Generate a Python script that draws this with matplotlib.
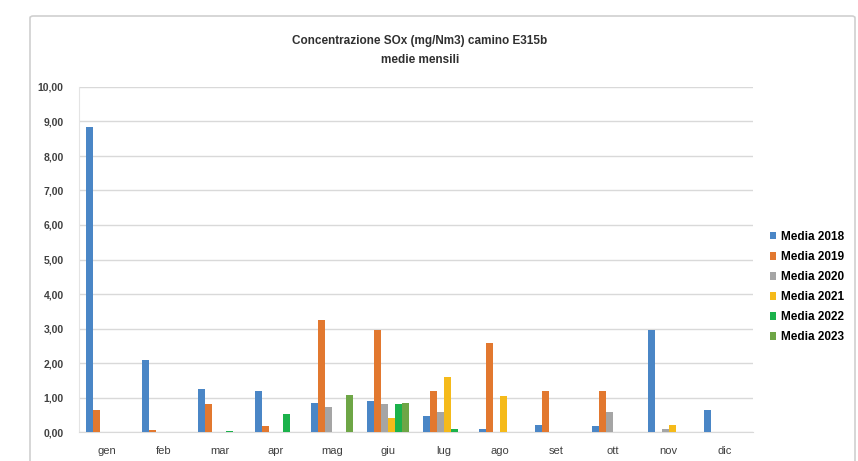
import numpy as np
import matplotlib.pyplot as plt
from matplotlib.patches import FancyBboxPatch

# monthly averages (mg/Nm3)
months = ['gen', 'feb', 'mar', 'apr', 'mag', 'giu', 'lug', 'ago', 'set', 'ott', 'nov', 'dic']
media_2018 = [8.85, 2.08, 1.25, 1.20, 0.85, 0.90, 0.45, 0.10, 0.20, 0.18, 2.95, 0.65]
media_2019 = [0.65, 0.05, 0.80, 0.18, 3.25, 2.97, 1.20, 2.57, 1.20, 1.20, 0.00, 0.00]
media_2020 = [0.00, 0.00, 0.00, 0.00, 0.72, 0.80, 0.58, 0.00, 0.00, 0.58, 0.10, 0.00]
media_2021 = [0.00, 0.00, 0.00, 0.00, 0.00, 0.42, 1.60, 1.03, 0.00, 0.00, 0.20, 0.00]
media_2022 = [0.00, 0.00, 0.03, 0.52, 0.00, 0.80, 0.10, 0.00, 0.00, 0.00, 0.00, 0.00]
media_2023 = [0.00, 0.00, 0.00, 0.00, 1.08, 0.85, 0.00, 0.00, 0.00, 0.00, 0.00, 0.00]
series_labels = ['Media 2018', 'Media 2019', 'Media 2020', 'Media 2021', 'Media 2022', 'Media 2023']
y_ticks = [0, 1, 2, 3, 4, 5, 6, 7, 8, 9, 10]

colors = ['#4A86C6', '#E2782F', '#A5A5A5', '#F5BA1A', '#1BB24B', '#6EA646']
series = [media_2018, media_2019, media_2020, media_2021, media_2022, media_2023]

plt.rcParams['font.family'] = ['Liberation Sans', 'DejaVu Sans']

fig = plt.figure(figsize=(8.58, 4.61), dpi=100)

# chart frame (light grey, like the spreadsheet chart box)
frame = FancyBboxPatch((30 / 858, -0.05), 825 / 858, 1 - 16 / 461 + 0.05,
                       boxstyle='round,pad=0,rounding_size=0.004',
                       transform=fig.transFigure, facecolor='white',
                       edgecolor='#D0D0D0', linewidth=1.2, zorder=-5)
fig.add_artist(frame)

ax = fig.add_axes([79 / 858, 1 - 432 / 461, 674 / 858, 345 / 461])
ax.set_zorder(2)
ax.set_facecolor('none')

x = np.arange(len(months))
width = 0.125
for i, (vals, lab, col) in enumerate(zip(series, series_labels, colors)):
    ax.bar(x - 0.375 + width * (i + 0.5), vals, width, color=col, label=lab, zorder=3)

ax.set_xlim(-0.5, len(months) - 0.5)
ax.set_ylim(0, 10)
ax.set_yticks(y_ticks)
ax.set_yticklabels(['%d,00' % t for t in y_ticks], fontsize=7.5, fontweight='bold', color='#404040')
ax.set_xticks(x)
ax.set_xticklabels(months, fontsize=8, color='#404040')
ax.tick_params(axis='both', length=0)
ax.tick_params(axis='x', pad=10)
ax.tick_params(axis='y', pad=11)
ax.grid(axis='y', color='#D9D9D9', linewidth=1.0, zorder=0)
for side in ['top', 'right']:
    ax.spines[side].set_visible(False)
ax.spines['left'].set_color('#E4E4E4')
ax.spines['bottom'].set_color('#D9D9D9')

fig.text(420 / 858, 1 - 41 / 461, 'Concentrazione SOx (mg/Nm3) camino E315b',
         ha='center', va='center', fontsize=8.5, fontweight='bold', color='#303030')
fig.text(420 / 858, 1 - 60 / 461, 'medie mensili',
         ha='center', va='center', fontsize=8.5, fontweight='bold', color='#303030')

ax.legend(loc='upper left', bbox_to_anchor=(764 / 858, 1 - 225 / 461),
          bbox_transform=fig.transFigure, frameon=False,
          prop={'size': 8.5, 'weight': 'bold'}, handlelength=0.5, handleheight=0.6,
          handletextpad=0.4, labelspacing=0.68, borderpad=0)

fig.savefig('out.png', dpi=100)
